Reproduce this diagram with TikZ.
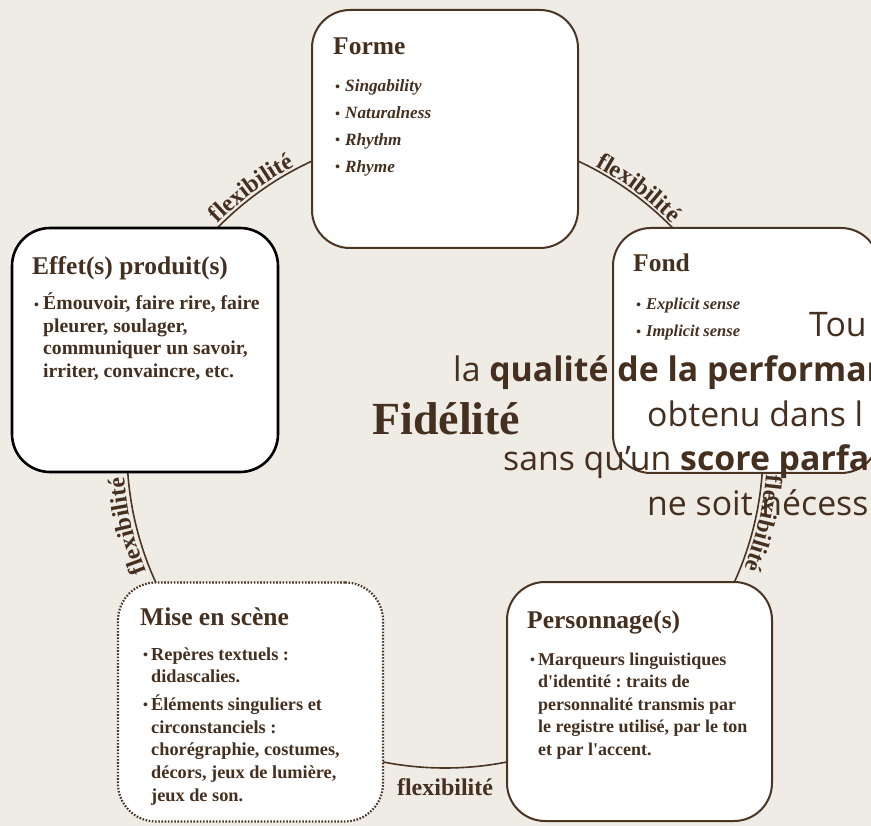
\documentclass[tikz,border=0pt]{standalone}
\usepackage{fontspec}
\setmainfont{Liberation Serif}
\newfontfamily\osans{Open Sans}
\usetikzlibrary{decorations.text}
\definecolor{bg}{HTML}{EFECE6}
\definecolor{ink}{HTML}{45301F}
\definecolor{edge}{HTML}{4A3423}
\frenchspacing
\newcommand{\flexfont}{\fontsize{24}{24}\selectfont\bfseries}
\newcommand{\bdot}{\raisebox{0.6pt}{\fontsize{14}{14}\selectfont •}}
\newcommand{\bitem}[2]{\par\noindent\hangindent=#1\hangafter=1\makebox[#1][l]{\bdot}#2\par}
\tikzset{
  box/.style={rectangle, draw=edge, line width=2pt, fill=white, rounded corners=38pt, inner sep=0pt},
  boxblack/.style={box, draw=black, line width=2.6pt},
  boxdot/.style={box, line width=2.2pt, dash pattern=on 1.6pt off 1.6pt},
  ring/.style={draw=edge, line width=1.6pt},
  title/.style={anchor=base west, inner sep=0pt, text=ink, font=\fontsize{25.5}{28}\selectfont\bfseries},
  items/.style={anchor=base west, inner sep=0pt, text=ink},
  over/.style={anchor=base west, inner sep=0pt, text=ink, font=\osans\fontsize{33.8}{44}\selectfont},
  flexlab/.style={decorate, decoration={text along path, text align=center, text={|\flexfont\color{ink}|flexibilité}}},
  flexnode/.style={anchor=base, inner sep=0pt, text=ink, font=\flexfont},
}
\begin{document}
\begin{tikzpicture}[x=1pt,y=1pt]
\useasboundingbox (0,0) rectangle (871,-826);
\fill[bg] (0,0) rectangle (871,-826);
\begin{scope}
\clip (0,0) rectangle (871,-826);
\coordinate (c) at (445,-450);
\draw[ring] (c) circle[radius=318];
% flexibility labels along the ring
\path[flexlab, decoration={raise=3pt}] (c) ++(140:318) arc[start angle=140, end angle=113, radius=318];
\path[flexlab, decoration={raise=3pt}] (c) ++(67:318) arc[start angle=67, end angle=40, radius=318];
\path[flexlab, decoration={raise=4pt}] (c) ++(0:318) arc[start angle=0, end angle=-26, radius=318];
\path[flexlab, decoration={raise=4pt}] (c) ++(207:318) arc[start angle=207, end angle=180, radius=318];
\node[flexnode] (flexbottom) at (445,-795) {flexibilité};
% boxes
\node[box, minimum width=266pt, minimum height=238pt] (forme) at (445,-129) {};
\node[boxblack, minimum width=266pt, minimum height=244pt] (effet) at (145,-350) {};
\node[box, minimum width=266pt, minimum height=245pt] (fond) at (746,-350.5) {};
\node[boxdot, minimum width=265pt, minimum height=239pt] (mise) at (250.5,-702) {};
\node[box, minimum width=265pt, minimum height=239pt] (perso) at (639.5,-701.5) {};
% titles
\node[title] (tforme) at (333,-55) {Forme};
\node[title] (teffet) at (32,-275) {Effet(s) produit(s)};
\node[title] (tfond) at (633,-272) {Fond};
\node[title] (tmise) at (140,-625) {Mise en scène};
\node[title] (tperso) at (527,-628) {Personnage(s)};
% items
\node[items, font=\fontsize{17.2}{26.7}\selectfont\bfseries\itshape] (iforme) at (335,-92)
  {\parbox[t]{220pt}{\raggedright\bitem{10pt}{Singability}\bitem{10pt}{Naturalness}\bitem{10pt}{Rhythm}\bitem{10pt}{Rhyme}}};
\node[items, font=\fontsize{16.5}{27}\selectfont\bfseries\itshape] (ifond) at (636,-310)
  {\parbox[t]{220pt}{\raggedright\bitem{10pt}{Explicit sense}\bitem{10pt}{Implicit sense}}};
\node[items, font=\fontsize{19.7}{22.5}\selectfont\bfseries] (ieffet) at (34,-310)
  {\parbox[t]{240pt}{\raggedright\bitem{9pt}{Émouvoir, faire rire, faire\newline pleurer, soulager,\newline communiquer un savoir,\newline irriter, convaincre, etc.}}};
\node[items, font=\fontsize{18.3}{22.7}\selectfont\bfseries] (imise) at (143,-660)
  {\parbox[t]{240pt}{\raggedright\setlength{\parskip}{5pt}\bitem{8pt}{Repères textuels :\newline didascalies.}\bitem{8pt}{Éléments singuliers et\newline circonstanciels :\newline chorégraphie, costumes,\newline décors, jeux de lumière,\newline jeux de son.}}};
\node[items, font=\fontsize{18}{22.6}\selectfont\bfseries] (iperso) at (530,-665)
  {\parbox[t]{240pt}{\raggedright\bitem{8pt}{Marqueurs linguistiques\newline d\textquotesingle identité : traits de\newline personnalité transmis par\newline le registre utilisé, par le ton\newline et par l\textquotesingle accent.}}};
% central label
\node[anchor=base west, inner sep=0pt, text=ink, font=\fontsize{46}{46}\selectfont\bfseries] (fid) at (372,-435) {Fidélité};
% overflowing text
\node[over] (o1) at (809,-337) {Tou};
\node[over] (o2) at (453,-382) {la \textbf{qualité de la performan}};
\node[over] (o3) at (647,-427) {obtenu dans l};
\node[over] (o4) at (503,-471) {sans qu’un \textbf{score parfa}};
\node[over] (o5) at (647,-515) {ne soit nécess};
\end{scope}
\end{tikzpicture}
\end{document}
